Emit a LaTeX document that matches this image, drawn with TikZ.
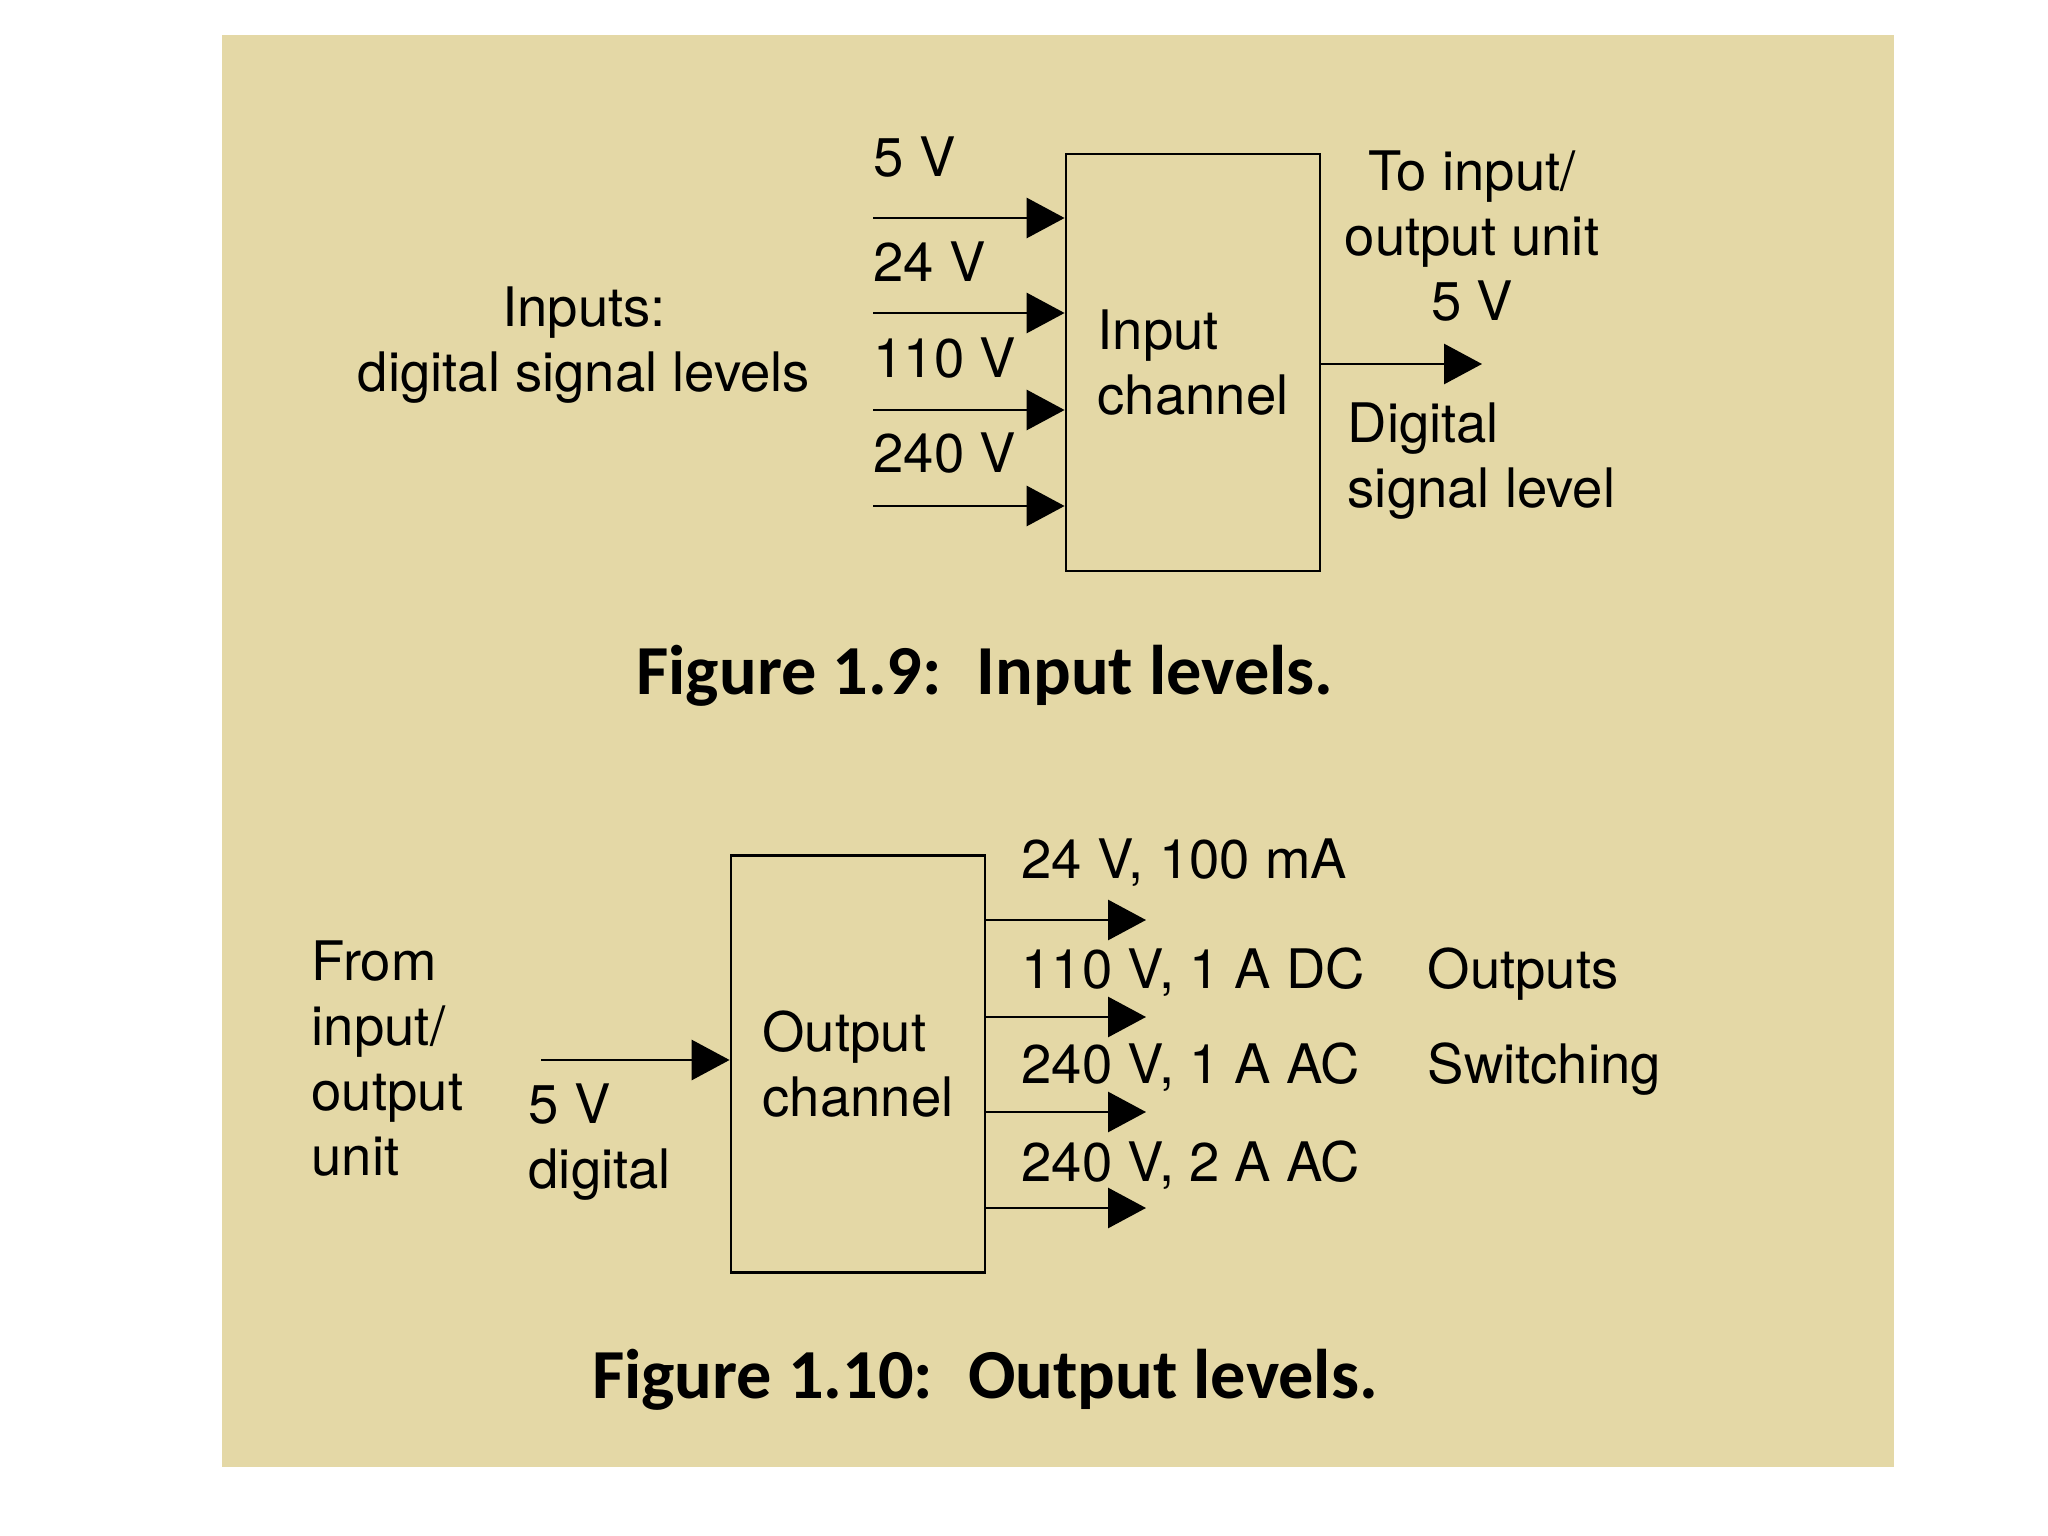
\documentclass[tikz,border=0pt]{standalone}
\usepackage{fontspec}
\setsansfont{TeX Gyre Heros}
\newfontfamily\capfont{Carlito}
\usetikzlibrary{arrows.meta}
\definecolor{paper}{RGB}{228,216,166}
\tikzset{
  lbl/.style={font=\sffamily\fontsize{15.5}{18.5}\selectfont, inner sep=0pt},
  chan/.style={lbl, draw, line width=0.8pt, minimum width=2.54cm, minimum height=4.17cm, align=left},
  sig/.style={line width=0.75pt, -{Triangle[length=10.8pt,width=11.4pt]}},
  figcap/.style={font=\capfont\bfseries\fontsize{20}{23}\selectfont, inner sep=0pt},
}

\begin{document}
\begin{tikzpicture}[x=1cm,y=1cm]
\useasboundingbox (0,0) rectangle (20.48,-15.36);
\fill[white] (0,0) rectangle (20.48,-15.36);
\fill[paper] (2.22,-0.35) rectangle (18.94,-14.67);

\node[chan] (inbox) at (11.93,-3.625) {Input\\channel};
\foreach \n/\y in {1/2.18,2/3.13,3/4.10,4/5.06} {
  \coordinate (i\n) at (8.73,-\y);
  \draw[sig] (i\n) -- (i\n -| inbox.west);
}
\node[lbl,anchor=base west] (v5) at (8.73,-1.77) {5 V};
\node[lbl,anchor=base west] (v24) at (8.73,-2.82) {24 V};
\node[lbl,anchor=base west] (v110) at (8.73,-3.78) {110 V};
\node[lbl,anchor=base west] (v240) at (8.73,-4.73) {240 V};
\node[lbl,align=center,anchor=north] (inlbl) at (5.84,-2.86) {Inputs:\\digital signal levels};
\coordinate (o1) at (14.82,-3.64);
\draw[sig] (inbox.east |- o1) -- (o1);
\node[lbl,align=center,anchor=north] (tolbl) at (14.72,-1.50) {To input/\\output unit\\5 V};
\node[lbl,align=left,anchor=north west] (dlbl) at (13.47,-4.02) {Digital\\signal level};
\node[figcap,anchor=base] (cap1) at (9.85,-6.95) {Figure 1.9:\enspace Input levels.};

\node[chan] (outbox) at (8.58,-10.64) {Output\\channel};
\coordinate (f0) at (5.41,-10.60);
\draw[sig] (f0) -- (f0 -| outbox.west);
\foreach \n/\y in {1/9.20,2/10.17,3/11.12,4/12.08} {
  \coordinate (q\n) at (11.46,-\y);
  \draw[sig] (outbox.east |- q\n) -- (q\n);
}
\node[lbl,anchor=base west] (a24) at (10.21,-8.78) {24 V, 100 mA};
\node[lbl,anchor=base west] (a110) at (10.21,-9.88) {110 V, 1 A DC};
\node[lbl,anchor=base west] (a240) at (10.21,-10.83) {240 V, 1 A AC};
\node[lbl,anchor=base west] (b240) at (10.21,-11.81) {240 V, 2 A AC};
\node[lbl,anchor=base west] (outs) at (14.27,-9.88) {Outputs};
\node[lbl,anchor=base west] (swi) at (14.27,-10.83) {Switching};
\node[lbl,align=left,anchor=north west] (from) at (3.11,-9.40) {From\\input/\\output\\unit};
\node[lbl,align=left,anchor=north west] (dig) at (5.28,-10.83) {5 V\\digital};
\node[figcap,anchor=base] (cap2) at (9.85,-13.98) {Figure 1.10:\enspace Output levels.};
\end{tikzpicture}
\end{document}
